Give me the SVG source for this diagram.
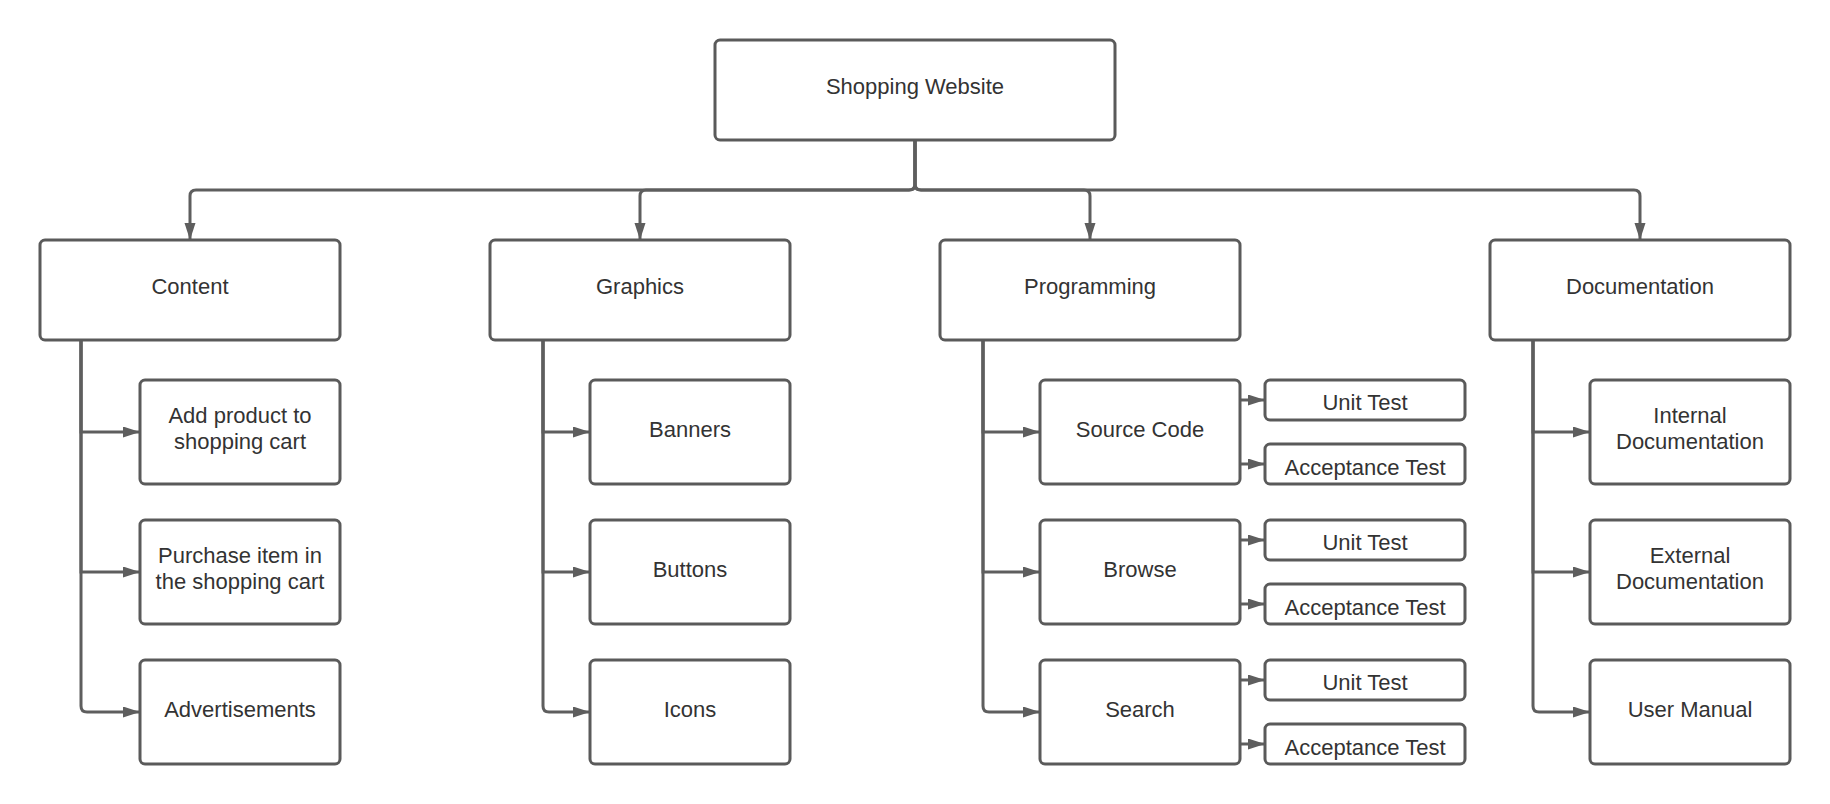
<svg xmlns="http://www.w3.org/2000/svg" width="1830" height="804" viewBox="0 0 1830 804">
<style>
.box{fill:#ffffff;stroke:#5a5a5a;stroke-width:3}
.t{font-family:"Liberation Sans",Arial,sans-serif;font-size:22px;fill:#333333;text-anchor:middle}
.c{fill:none;stroke:#5e5e5e;stroke-width:3}
</style>
<defs>
<marker id="ah" markerUnits="userSpaceOnUse" markerWidth="18" markerHeight="12" refX="17" refY="5.5" orient="auto">
<path d="M0,0 L17,5.5 L0,11 Z" fill="#5e5e5e"/>
</marker>
</defs>
<rect width="1830" height="804" fill="#ffffff"/>
<g id="connectors">
<path class="c" marker-end="url(#ah)" d="M915 140 V184 Q915 190 909 190 H196 Q190 190 190 196 V240"/>
<path class="c" marker-end="url(#ah)" d="M915 140 V184 Q915 190 909 190 H646 Q640 190 640 196 V240"/>
<path class="c" marker-end="url(#ah)" d="M915 140 V184 Q915 190 921 190 H1084 Q1090 190 1090 196 V240"/>
<path class="c" marker-end="url(#ah)" d="M915 140 V184 Q915 190 921 190 H1634 Q1640 190 1640 196 V240"/>
<path class="c" marker-end="url(#ah)" d="M81 340 V432 H140"/>
<path class="c" marker-end="url(#ah)" d="M81 340 V572 H140"/>
<path class="c" marker-end="url(#ah)" d="M81 340 V706 Q81 712 87 712 H140"/>
<path class="c" marker-end="url(#ah)" d="M543 340 V432 H590"/>
<path class="c" marker-end="url(#ah)" d="M543 340 V572 H590"/>
<path class="c" marker-end="url(#ah)" d="M543 340 V706 Q543 712 549 712 H590"/>
<path class="c" marker-end="url(#ah)" d="M983 340 V432 H1040"/>
<path class="c" marker-end="url(#ah)" d="M983 340 V572 H1040"/>
<path class="c" marker-end="url(#ah)" d="M983 340 V706 Q983 712 989 712 H1040"/>
<path class="c" marker-end="url(#ah)" d="M1533 340 V432 H1590"/>
<path class="c" marker-end="url(#ah)" d="M1533 340 V572 H1590"/>
<path class="c" marker-end="url(#ah)" d="M1533 340 V706 Q1533 712 1539 712 H1590"/>
<path class="c" marker-end="url(#ah)" d="M1240 400 H1265"/>
<path class="c" marker-end="url(#ah)" d="M1240 464 H1265"/>
<path class="c" marker-end="url(#ah)" d="M1240 540 H1265"/>
<path class="c" marker-end="url(#ah)" d="M1240 604 H1265"/>
<path class="c" marker-end="url(#ah)" d="M1240 680 H1265"/>
<path class="c" marker-end="url(#ah)" d="M1240 744 H1265"/>
</g>
<g id="root"><rect class="box" x="715" y="40" width="400" height="100" rx="5"/><text class="t" x="915" y="94">Shopping Website</text></g>
<g id="content"><rect class="box" x="40" y="240" width="300" height="100" rx="5"/><text class="t" x="190" y="294">Content</text></g>
<g id="graphics"><rect class="box" x="490" y="240" width="300" height="100" rx="5"/><text class="t" x="640" y="294">Graphics</text></g>
<g id="programming"><rect class="box" x="940" y="240" width="300" height="100" rx="5"/><text class="t" x="1090" y="294">Programming</text></g>
<g id="documentation"><rect class="box" x="1490" y="240" width="300" height="100" rx="5"/><text class="t" x="1640" y="294">Documentation</text></g>
<g id="add-product"><rect class="box" x="140" y="380" width="200" height="104" rx="5"/><text class="t" x="240" y="423">Add product to</text><text class="t" x="240" y="449">shopping cart</text></g>
<g id="purchase-item"><rect class="box" x="140" y="520" width="200" height="104" rx="5"/><text class="t" x="240" y="563">Purchase item in</text><text class="t" x="240" y="589">the shopping cart</text></g>
<g id="advertisements"><rect class="box" x="140" y="660" width="200" height="104" rx="5"/><text class="t" x="240" y="717">Advertisements</text></g>
<g id="banners"><rect class="box" x="590" y="380" width="200" height="104" rx="5"/><text class="t" x="690" y="437">Banners</text></g>
<g id="buttons"><rect class="box" x="590" y="520" width="200" height="104" rx="5"/><text class="t" x="690" y="577">Buttons</text></g>
<g id="icons"><rect class="box" x="590" y="660" width="200" height="104" rx="5"/><text class="t" x="690" y="717">Icons</text></g>
<g id="source-code"><rect class="box" x="1040" y="380" width="200" height="104" rx="5"/><text class="t" x="1140" y="437">Source Code</text></g>
<g id="browse"><rect class="box" x="1040" y="520" width="200" height="104" rx="5"/><text class="t" x="1140" y="577">Browse</text></g>
<g id="search"><rect class="box" x="1040" y="660" width="200" height="104" rx="5"/><text class="t" x="1140" y="717">Search</text></g>
<g id="unit-test-1"><rect class="box" x="1265" y="380" width="200" height="40" rx="5"/><text class="t" x="1365" y="410">Unit Test</text></g>
<g id="acceptance-test-1"><rect class="box" x="1265" y="444" width="200" height="40" rx="5"/><text class="t" x="1365" y="475">Acceptance Test</text></g>
<g id="unit-test-2"><rect class="box" x="1265" y="520" width="200" height="40" rx="5"/><text class="t" x="1365" y="550">Unit Test</text></g>
<g id="acceptance-test-2"><rect class="box" x="1265" y="584" width="200" height="40" rx="5"/><text class="t" x="1365" y="615">Acceptance Test</text></g>
<g id="unit-test-3"><rect class="box" x="1265" y="660" width="200" height="40" rx="5"/><text class="t" x="1365" y="690">Unit Test</text></g>
<g id="acceptance-test-3"><rect class="box" x="1265" y="724" width="200" height="40" rx="5"/><text class="t" x="1365" y="755">Acceptance Test</text></g>
<g id="internal-doc"><rect class="box" x="1590" y="380" width="200" height="104" rx="5"/><text class="t" x="1690" y="423">Internal</text><text class="t" x="1690" y="449">Documentation</text></g>
<g id="external-doc"><rect class="box" x="1590" y="520" width="200" height="104" rx="5"/><text class="t" x="1690" y="563">External</text><text class="t" x="1690" y="589">Documentation</text></g>
<g id="user-manual"><rect class="box" x="1590" y="660" width="200" height="104" rx="5"/><text class="t" x="1690" y="717">User Manual</text></g>
</svg>
